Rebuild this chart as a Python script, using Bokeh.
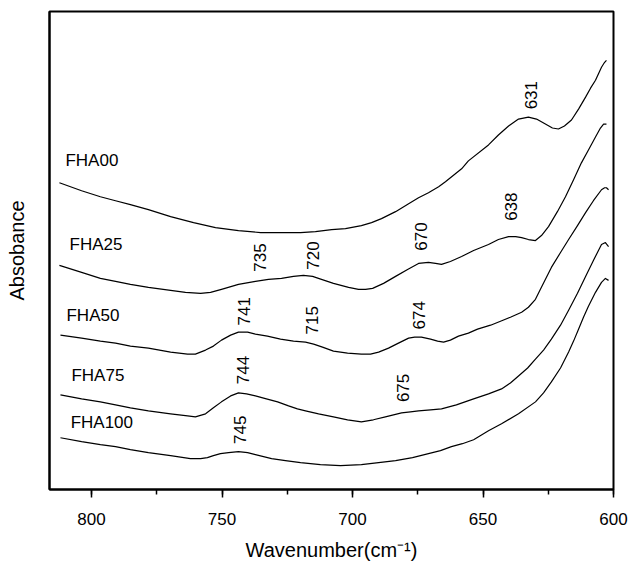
import numpy as np
from bokeh.plotting import figure
from bokeh.models import Range1d, SingleIntervalTicker, ColumnDataSource
from bokeh.core.properties import value
from bokeh.embed import file_html
from bokeh.resources import INLINE

# ---- data (wavenumber in cm-1, absorbance in arbitrary units) ----
fha00_x = [812.3, 803.8, 796.6, 790.8, 785.1, 778.2, 769.7, 760.9, 752.5, 743.7, 735.2, 728.4,
           719.9, 714.2, 708.0, 702.7, 696.6, 692.7, 688.9, 683.5, 678.5, 674.7, 670.9, 667.0,
           664.4, 658.2, 655.6, 647.9, 644.1, 640.2, 636.4, 632.6, 629.5, 626.1, 623.4, 621.1,
           618.8, 616.1, 613.4, 610.7, 608.8, 606.9, 604.6, 603.4, 602.7]
fha00_y = [3.08, 3.00, 2.94, 2.90, 2.86, 2.81, 2.74, 2.68, 2.63, 2.60, 2.58, 2.58,
           2.58, 2.59, 2.61, 2.62, 2.65, 2.68, 2.72, 2.79, 2.87, 2.93, 2.98, 3.04,
           3.09, 3.22, 3.30, 3.46, 3.56, 3.65, 3.72, 3.74, 3.72, 3.67, 3.63, 3.62,
           3.65, 3.71, 3.82, 3.94, 4.03, 4.11, 4.24, 4.29, 4.31]

fha25_x = [812.3, 803.8, 796.6, 790.8, 785.1, 778.2, 769.7, 764.0, 758.2, 754.4, 750.2, 743.7,
           737.2, 732.2, 727.2, 722.6, 718.8, 715.3, 711.9, 707.3, 701.5, 697.7, 695.0, 692.3,
           688.1, 683.5, 678.9, 674.7, 670.9, 668.2, 665.9, 662.5, 658.2, 653.6, 647.9, 644.1,
           640.2, 637.5, 635.2, 632.6, 629.9, 627.6, 624.9, 621.5, 618.4, 615.3, 612.3, 609.6,
           606.9, 605.0, 603.8, 602.7]
fha25_y = [2.25, 2.18, 2.12, 2.09, 2.06, 2.03, 2.00, 1.98, 1.97, 1.98, 2.01, 2.06,
           2.09, 2.11, 2.12, 2.14, 2.15, 2.14, 2.11, 2.07, 2.03, 2.01, 2.01, 2.02,
           2.07, 2.14, 2.21, 2.27, 2.28, 2.27, 2.26, 2.29, 2.34, 2.40, 2.46, 2.51,
           2.54, 2.54, 2.53, 2.51, 2.50, 2.55, 2.64, 2.79, 2.94, 3.11, 3.28, 3.41,
           3.54, 3.63, 3.67, 3.67]

fha50_x = [811.9, 803.8, 796.6, 790.8, 785.1, 778.2, 769.7, 763.2, 760.2, 756.3, 753.3, 750.2,
           746.7, 743.7, 740.2, 737.2, 732.6, 727.6, 722.6, 718.0, 714.9, 711.5, 707.3, 701.9,
           696.6, 693.1, 690.0, 686.2, 682.4, 678.5, 676.2, 673.6, 670.1, 667.4, 665.1, 662.5,
           659.4, 655.6, 652.1, 647.1, 643.3, 639.5, 635.2, 632.6, 629.9, 628.0, 623.8, 620.3,
           617.2, 613.8, 610.7, 607.7, 604.6, 603.4, 602.7, 601.9]
fha50_y = [1.55, 1.52, 1.49, 1.47, 1.44, 1.42, 1.38, 1.36, 1.36, 1.40, 1.44, 1.50,
           1.55, 1.58, 1.58, 1.56, 1.54, 1.51, 1.49, 1.48, 1.46, 1.43, 1.39, 1.37,
           1.36, 1.36, 1.38, 1.42, 1.47, 1.52, 1.53, 1.53, 1.51, 1.49, 1.48, 1.50,
           1.54, 1.57, 1.61, 1.65, 1.69, 1.73, 1.78, 1.83, 1.91, 2.01, 2.23, 2.38,
           2.51, 2.65, 2.78, 2.90, 3.01, 3.03, 3.03, 3.01]

fha75_x = [811.9, 803.8, 796.6, 790.8, 785.1, 778.2, 769.7, 763.2, 760.2, 756.3, 753.3, 750.2,
           746.7, 743.7, 740.6, 737.2, 733.0, 728.7, 724.5, 721.1, 718.0, 713.0, 707.3, 701.9,
           696.6, 692.0, 687.4, 684.3, 681.2, 677.8, 674.7, 670.1, 665.9, 660.2, 653.6, 647.9,
           642.9, 639.5, 636.4, 632.9, 629.9, 626.8, 623.8, 620.3, 617.2, 613.8, 610.7, 607.7,
           604.6, 603.1, 601.9]
fha75_y = [0.95, 0.91, 0.88, 0.85, 0.82, 0.79, 0.76, 0.74, 0.73, 0.76, 0.82, 0.88,
           0.94, 0.97, 0.96, 0.94, 0.91, 0.88, 0.84, 0.81, 0.79, 0.76, 0.73, 0.70,
           0.68, 0.70, 0.73, 0.75, 0.77, 0.78, 0.79, 0.80, 0.81, 0.85, 0.91, 0.96,
           1.01, 1.07, 1.14, 1.22, 1.31, 1.40, 1.51, 1.65, 1.80, 1.97, 2.14, 2.30,
           2.46, 2.48, 2.44]

fha100_x = [811.9, 803.8, 796.6, 790.8, 785.1, 778.2, 769.7, 762.1, 758.2, 755.6, 753.3, 750.6,
            747.5, 743.7, 740.2, 737.2, 734.1, 731.0, 725.7, 719.9, 712.3, 704.6, 696.6, 690.0,
            683.5, 677.0, 670.9, 666.3, 662.1, 657.9, 653.6, 647.9, 642.9, 636.4, 629.9, 626.8,
            623.8, 620.3, 617.2, 615.3, 613.4, 611.5, 609.6, 606.9, 604.6, 603.1, 601.9]
fha100_y = [0.52, 0.48, 0.45, 0.43, 0.40, 0.37, 0.34, 0.31, 0.31, 0.32, 0.34, 0.36,
            0.37, 0.38, 0.37, 0.35, 0.33, 0.31, 0.29, 0.27, 0.25, 0.24, 0.25, 0.27,
            0.29, 0.32, 0.36, 0.39, 0.43, 0.46, 0.50, 0.59, 0.66, 0.76, 0.88, 0.97,
            1.08, 1.22, 1.38, 1.49, 1.61, 1.73, 1.84, 1.98, 2.08, 2.12, 2.10]

series_x = [fha00_x, fha25_x, fha50_x, fha75_x, fha100_x]
series_y = [fha00_y, fha25_y, fha50_y, fha75_y, fha100_y]

sample_names = ["FHA00", "FHA25", "FHA50", "FHA75", "FHA100"]
name_x = [810.0, 808.4, 809.6, 807.7, 808.0]
name_y = [3.30, 2.46, 1.75, 1.14, 0.67]

peak_labels = ["631", "638", "670", "735", "720", "741", "715", "674", "744", "675", "745"]
peak_x = [631.8, 639.1, 673.9, 735.6, 715.3, 741.4, 715.7, 674.7, 742.1, 680.8, 743.3]
peak_y = [3.96, 2.84, 2.54, 2.33, 2.35, 1.79, 1.70, 1.75, 1.20, 1.02, 0.60]

x_ticks_interval = 50
x_start, x_end = 816.1, 600.0
y_start, y_end = 0.0, 4.80

FONT = "Liberation Sans"

p = figure(width=630, height=563, output_backend="svg", toolbar_location=None,
           x_range=Range1d(x_start, x_end), y_range=Range1d(y_start, y_end),
           min_border_left=49, min_border_right=17, min_border_top=11, min_border_bottom=72)
p.background_fill_color = "white"
p.border_fill_color = "white"
p.grid.visible = False
p.outline_line_color = "black"
p.outline_line_width = 2

for xs, ys in zip(series_x, series_y):
    p.line(xs, ys, line_color="black", line_width=1.2, line_join="round")

names_src = ColumnDataSource(dict(x=name_x, y=name_y, t=sample_names))
p.text(x="x", y="y", text="t", source=names_src, text_font=value(FONT),
       text_font_size="17px", text_align="left", text_baseline="middle", text_color="black")

peaks_src = ColumnDataSource(dict(x=peak_x, y=peak_y, t=peak_labels))
p.text(x="x", y="y", text="t", source=peaks_src, angle=np.pi / 2, text_font=value(FONT),
       text_font_size="17px", text_align="center", text_baseline="middle", text_color="black")

xa = p.xaxis[0]
xa.ticker = SingleIntervalTicker(interval=x_ticks_interval, num_minor_ticks=2)
xa.axis_label = "Wavenumber(cm\u207b\u00b9)"
xa.axis_label_text_font = FONT
xa.axis_label_text_font_size = "20px"
xa.axis_label_text_font_style = "normal"
xa.axis_label_text_color = "black"
xa.axis_label_standoff = 11
xa.major_label_text_font = FONT
xa.major_label_text_font_size = "17px"
xa.major_label_text_color = "black"
xa.major_label_standoff = 15
xa.axis_line_width = 2
xa.axis_line_color = "black"
xa.major_tick_in = 0
xa.major_tick_out = 8
xa.minor_tick_in = 0
xa.minor_tick_out = 5
xa.major_tick_line_width = 1.5
xa.minor_tick_line_width = 1.5
xa.major_tick_line_color = "black"
xa.minor_tick_line_color = "black"

ya = p.yaxis[0]
ya.ticker = []
ya.axis_label = "Absobance"
ya.axis_label_text_font = FONT
ya.axis_label_text_font_size = "20px"
ya.axis_label_text_font_style = "normal"
ya.axis_label_text_color = "black"
ya.axis_label_standoff = 22
ya.axis_line_width = 2
ya.axis_line_color = "black"
ya.major_label_text_font_size = "0px"
ya.major_tick_line_color = None
ya.minor_tick_line_color = None

open("out.html", "w").write(file_html(p, INLINE))
